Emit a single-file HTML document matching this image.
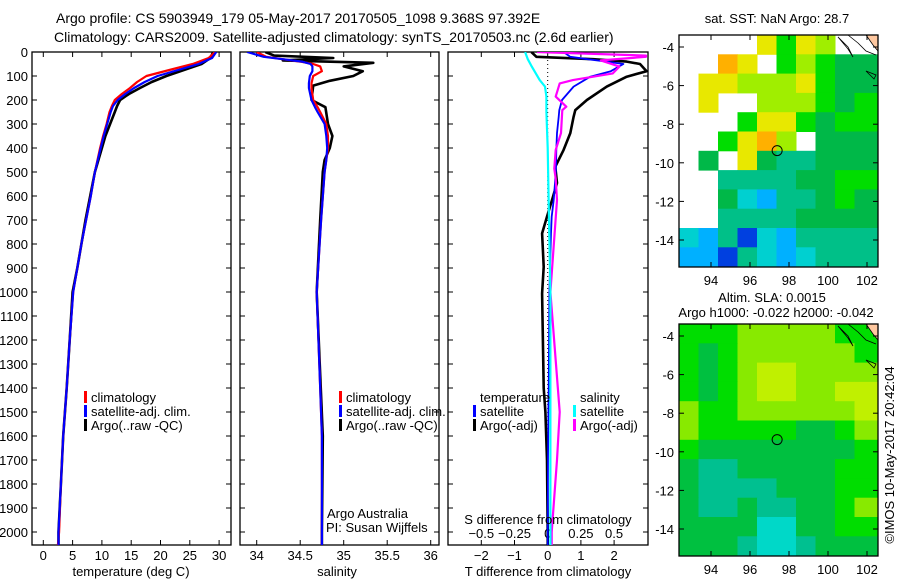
<!DOCTYPE html>
<html><head><meta charset="utf-8">
<style>
html,body{margin:0;padding:0;background:#fff;}
svg{display:block;font-family:"Liberation Sans",Arial,sans-serif;}
text{fill:#000;}
</style></head>
<body>
<svg id="chart" width="900" height="580" viewBox="0 0 900 580" xmlns="http://www.w3.org/2000/svg">
<defs>
<clipPath id="c1"><rect x="32" y="52" width="199" height="493"/></clipPath>
<clipPath id="c2"><rect x="240" y="52" width="199" height="493"/></clipPath>
<clipPath id="c3"><rect x="448" y="52" width="200" height="493"/></clipPath>
</defs>
<text x="56" y="23" font-size="14">Argo profile: CS 5903949_179 05-May-2017 20170505_1098 9.368S 97.392E</text>
<text x="54" y="42" font-size="14">Climatology: CARS2009. Satellite-adjusted climatology: synTS_20170503.nc (2.6d earlier)</text>
<g id="g"></g>
</svg>
<script>
// ---- data ----
const tDepth=[0,25,50,75,100,125,150,175,200,225,250,300,350,400,500,600,700,800,900,1000,1200,1400,1600,1800,2000,2055];
const tClim=[29.3,28.2,25.5,21.5,17.6,16.0,14.8,13.4,12.2,11.7,11.3,10.8,10.2,9.7,8.8,8.1,7.3,6.5,5.8,5.1,4.5,4.0,3.4,3.0,2.7,2.5];
const tSat=[29.5,28.8,26.5,23.0,19.5,17.3,15.5,14.0,12.7,11.9,11.5,10.9,10.3,9.8,8.8,8.1,7.3,6.5,5.8,5.1,4.5,4.0,3.4,3.0,2.6,2.6];
const tArgo=[29.0,28.5,27.0,24.0,21.0,18.5,16.5,14.6,13.1,12.6,12.2,11.4,10.6,10.0,8.8,8.0,7.2,6.5,5.8,5.0,4.5,4.0,3.4,3.0,2.6,2.6];
const sDepth=[0,20,30,40,50,60,80,100,130,150,200,230,250,300,350,400,450,500,700,1000,1400,1600,2000,2055];
const sClim=[34.0,34.11,34.3,34.5,34.65,34.73,34.75,34.65,34.63,34.63,34.65,34.7,34.73,34.8,34.82,34.82,34.8,34.78,34.74,34.69,34.73,34.75,34.75,34.75];
const sSat=[33.89,34.08,34.3,34.52,34.62,34.64,34.64,34.61,34.6,34.6,34.63,34.67,34.7,34.78,34.8,34.81,34.8,34.78,34.74,34.69,34.73,34.75,34.75,34.75];
const aDepth=[0,15,25,35,45,60,80,100,120,140,200,230,300,350,400,450,500,700,1000,1600,2000,2055];
const sArgo=[34.1,34.2,34.88,34.3,35.34,35.0,35.22,35.11,34.84,34.65,34.63,34.79,34.82,34.87,34.84,34.78,34.76,34.73,34.69,34.76,34.75,34.75];
const dDepth=[0,20,30,40,50,80,103,144,200,242,270,338,408,478,546,617,686,756,895,1006,1400,1500,1700,2000,2055];
const dTArgo=[-0.49,-0.34,1.37,2.38,2.78,2.98,2.38,1.78,1.18,0.83,0.78,0.68,0.48,0.23,0.28,0.13,-0.02,-0.17,-0.12,-0.17,-0.12,-0.07,-0.02,0,0];
const dTSat=[0.48,0.68,1.2,1.78,2.28,1.9,1.28,0.78,0.43,0.35,0.33,0.28,0.26,0.25,0.22,0.18,0.12,0.1,0.07,0.05,0.03,0.02,0.01,0,0];
const mDepth=[0,15,20,35,61,89,117,131,186,228,242,338,408,486,528,617,1000,1500,1700,2000,2055];
const dSArgo=[-0.08,0.74,0.74,0.4,0.54,0.49,0.19,0.09,0.06,0.14,0.11,0.1,0.06,0.05,0.06,0.07,0.02,0.09,0.07,0.03,0.03];
const cDepth=[0,30,61,117,144,186,250,400,700,1000,2000,2055];
const dSSat=[-0.17,-0.15,-0.12,-0.06,-0.02,-0.01,-0.01,0,0.01,0.02,0.02,0.02];
const depthTicks=[0,100,200,300,400,500,600,700,800,900,1000,1100,1200,1300,1400,1500,1600,1700,1800,1900,2000];
const tTicks=[0,5,10,15,20,25,30];
const sTicks=[34,34.5,35,35.5,36];
const dTTicks=[-2,-1,0,1,2];
const dSTicks=[-0.5,-0.25,0,0.25,0.5];
const lonTicks=[94,96,98,100,102];
const latTicks=[-4,-6,-8,-10,-12,-14];
// map grids: 12 rows (lat -3.4 .. -15.4), 10 cols (lon 92.36 ..), value = colour class, -1 = no data
const sstGrid=[
[-1,-1,-1,-1,8,6,8,7,-1,-1],
[-1,-1,9,8,-1,6,7,6,5,5],
[-1,8,8,7,7,7,8,6,5,5],
[-1,8,-1,-1,7,7,7,6,5,6],
[-1,-1,-1,6,8,8,6,5,6,6],
[-1,-1,6,8,9,7,-1,5,5,5],
[-1,5,-1,8,5,4,4,5,5,5],
[-1,-1,4,4,4,4,5,5,6,6],
[-1,-1,5,3,2,4,4,5,6,5],
[-1,-1,4,4,4,4,5,5,5,5],
[3,2,4,1,3,2,4,4,4,4],
[2,2,1,4,3,2,3,4,4,4]];
const slaGrid=[
[6,6,6,7,7,7,7,7,6,6],
[6,5,6,7,7,7,7,7,7,6],
[6,5,6,7,8,8,7,7,7,7],
[6,5,6,7,8,8,7,7,8,8],
[7,6,6,7,7,7,7,7,7,8],
[7,6,6,6,6,6,5,5,6,7],
[6,5,5,5,5,5,5,5,5,6],
[5,4,4,5,5,5,5,5,6,6],
[5,4,4,4,4,5,5,5,6,6],
[5,4,4,5,4,4,5,5,6,7],
[5,5,5,5,3,3,5,5,6,6],
[5,5,5,4,3,3,4,5,5,5]];
const argoLon=97.392, argoLat=-9.368;

// ---- scales ----
const yD=d=>52+d*0.24;
const xT=v=>43.3+v*5.86;
const xS=v=>256.7+(v-34)*87;
const xDT=v=>547.7+v*33.2;
const xDS=v=>547.7+v*132.8;
const palT=['#0020c0','#0040e0','#00b0ff','#00d0d0','#00c088','#00b848','#00dd00','#a0ee00','#e8e800','#ffb000'];
const palS=['#0020c0','#0040e0','#00b0ff','#00d8c8','#00c090','#00c040','#00dd00','#88ea00','#c0f000','#ffb000'];

const NS='http://www.w3.org/2000/svg';
const G=document.getElementById('g');
function mk(tag,attrs,parent){const e=document.createElementNS(NS,tag);for(const k in attrs)e.setAttribute(k,attrs[k]);(parent||G).appendChild(e);return e;}
function txt(x,y,s,size,anchor,parent){const e=mk('text',{x:x,y:y,'font-size':size||13,'text-anchor':anchor||'start'},parent);e.textContent=s;return e;}

function panel(x0,x1,name,clip){
  const g=mk('g',{});
  
  
  const r=mk('rect',{x:x0,y:52,width:x1-x0,height:493,fill:'#fff',stroke:'#000','stroke-width':1.3},g);
  
  
  depthTicks.forEach(d=>{const y=yD(d);mk('line',{x1:x0,x2:x0+5,y1:y,y2:y,stroke:'#000'},g);mk('line',{x1:x1-5,x2:x1,y1:y,y2:y,stroke:'#000'},g);});
  return g;
}
function line(ds,vs,xf,color,w,clip,name){
  const pts=ds.map((d,i)=>xf(vs[i]).toFixed(1)+','+yD(d).toFixed(1)).join(' ');
  const p=mk('polyline',{points:pts,fill:'none',stroke:color,'stroke-width':w,'stroke-linejoin':'round','clip-path':'url(#'+clip+')'});
  
  
}
function legend(x,y,items,name){
  const g=mk('g',{});
  
  
  items.forEach((it,i)=>{const yy=y+i*14;if(it[1])mk('rect',{x:x,y:yy-6,width:3,height:12,fill:it[1]},g);txt(x+7,yy+5,it[0],13,'start',g);});
}

// Panel 1: temperature
panel(32,231,'temperature-panel','c1');
depthTicks.forEach(d=>{const t=txt(28,yD(d)+5,String(d),13,'end');});
tTicks.forEach(v=>{const x=xT(v);mk('line',{x1:x,x2:x,y1:52,y2:57,stroke:'#000'});mk('line',{x1:x,x2:x,y1:540,y2:545,stroke:'#000'});txt(x,560,String(v),13,'middle');});
txt(131,576,'temperature (deg C)',13,'middle');
line(tDepth,tArgo,xT,'#000',2.6,'c1','temp-argo-line');
line(tDepth,tClim,xT,'#f00',2.2,'c1','temp-climatology-line');
line(tDepth,tSat,xT,'#00f',2.2,'c1','temp-satellite-line');
legend(84,397,[['climatology','#f00'],['satellite-adj. clim.','#00f'],['Argo(..raw -QC)','#000']],'temperature-legend');

// Panel 2: salinity
panel(240,439,'salinity-panel','c2');
sTicks.forEach(v=>{const x=xS(v);mk('line',{x1:x,x2:x,y1:52,y2:57,stroke:'#000'});mk('line',{x1:x,x2:x,y1:540,y2:545,stroke:'#000'});txt(x,560,String(v),13,'middle');});
txt(337,576,'salinity',13,'middle');
line(aDepth,sArgo,xS,'#000',2.6,'c2','sal-argo-line');
line(sDepth,sClim,xS,'#f00',2.2,'c2','sal-climatology-line');
line(sDepth,sSat,xS,'#00f',2.2,'c2','sal-satellite-line');
legend(339,397,[['climatology','#f00'],['satellite-adj. clim.','#00f'],['Argo(..raw -QC)','#000']],'salinity-legend');
txt(327,518,'Argo Australia',13);
txt(326,532,'PI: Susan Wijffels',13);

// Panel 3: differences
panel(448,648,'difference-panel','c3');
mk('line',{x1:xDT(0),x2:xDT(0),y1:52,y2:545,stroke:'#000','stroke-dasharray':'1,3','clip-path':'url(#c3)'});
dTTicks.forEach(v=>{const x=xDT(v);mk('line',{x1:x,x2:x,y1:52,y2:57,stroke:'#000'});mk('line',{x1:x,x2:x,y1:540,y2:545,stroke:'#000'});txt(x,560,String(v).replace('-','\u2212'),13,'middle');});
dSTicks.forEach(v=>{const x=xDS(v);txt(x,538,String(v).replace('-','\u2212'),13,'middle');});
line(dDepth,dTArgo,xDT,'#000',2.6,'c3','tdiff-argo-line');
line(dDepth,dTSat,xDT,'#00f',1.8,'c3','tdiff-satellite-line');
line(mDepth,dSArgo,xDS,'#f0f',2.2,'c3','sdiff-argo-line');
line(cDepth,dSSat,xDS,'#0ff',2.2,'c3','sdiff-satellite-line');
legend(473,397,[['temperature',null],['satellite','#00f'],['Argo(-adj)','#000']],'tdiff-legend');
legend(573,397,[['salinity',null],['satellite','#0ff'],['Argo(-adj)','#f0f']],'sdiff-legend');
txt(548,524,'S difference from climatology',13,'middle');
txt(548,576,'T difference from climatology',13,'middle');

// Maps
function map(y0,grid,pal,name){
  const X0=679,X1=878,Y1=y0+232;
  const lx=v=>711+(v-94)*19.5, ly=v=>y0+12+(-4-v)*19.3;
  const g=mk('g',{});
  
  
  mk('rect',{x:X0,y:y0,width:X1-X0,height:232,fill:'#fff'},g);
  grid.forEach((row,r)=>row.forEach((v,c)=>{
    if(v<0)return;
    const xa=lx(92.36+c), xb=c===9?X1:lx(93.36+c);
    const ya=ly(-3.38-r), yb=r===11?Y1:ly(-4.38-r);
    const cell=mk('rect',{x:xa.toFixed(1),y:ya.toFixed(1),width:(xb-xa+0.5).toFixed(1),height:(yb-ya+0.5).toFixed(1),fill:pal[v]},g);
    
    
  }));
  mk('path',{d:`M${X1-12},${y0} L${X1},${y0} L${X1},${y0+16} L${X1-5},${y0+10} Z`,fill:'#ffc8a0',stroke:'#000','stroke-width':0.8},g);
  mk('path',{d:`M${X1-30},${y0} L${X1-20},${y0+8} L${X1-12},${y0+16} L${X1-2},${y0+20}`,fill:'none',stroke:'#000','stroke-width':0.8},g);
  mk('path',{d:`M${X1-40},${y0+2} L${X1-30},${y0+12} L${X1-25},${y0+22} L${X1-30},${y0+14} Z`,fill:'none',stroke:'#000','stroke-width':0.8},g);
  mk('path',{d:`M${X1-12},${y0+36} L${X1-2},${y0+40} L${X1-4},${y0+44} Z`,fill:'none',stroke:'#000','stroke-width':0.8},g);
  mk('rect',{x:X0,y:y0,width:X1-X0,height:232,fill:'none',stroke:'#000','stroke-width':1.3},g);
  lonTicks.forEach(v=>{const x=lx(v);mk('line',{x1:x,x2:x,y1:y0,y2:y0+5,stroke:'#000'},g);mk('line',{x1:x,x2:x,y1:Y1-5,y2:Y1,stroke:'#000'},g);txt(x,Y1+18,String(v),13,'middle',g);});
  latTicks.forEach(v=>{const y=ly(v);mk('line',{x1:X0,x2:X0+5,y1:y,y2:y,stroke:'#000'},g);mk('line',{x1:X1-5,x2:X1,y1:y,y2:y,stroke:'#000'},g);txt(674,y+5,String(v),13,'end',g);});
  const c=mk('circle',{cx:lx(argoLon),cy:ly(argoLat),r:5,fill:'none',stroke:'#000','stroke-width':1},g);
  
  
}
map(35,sstGrid,palT,'sst-map');
map(324,slaGrid,palS,'sla-map');
txt(777,23,'sat. SST: NaN Argo: 28.7',13,'middle');
txt(772,302,'Altim. SLA: 0.0015',13,'middle');
txt(776,317,'Argo h1000: -0.022 h2000: -0.042',13,'middle');
const cr=txt(0,0,'\u00a9IMOS 10-May-2017 20:42:04',13,'middle');
cr.setAttribute('transform','translate(894,455) rotate(-90)');


</script>
</body></html>
